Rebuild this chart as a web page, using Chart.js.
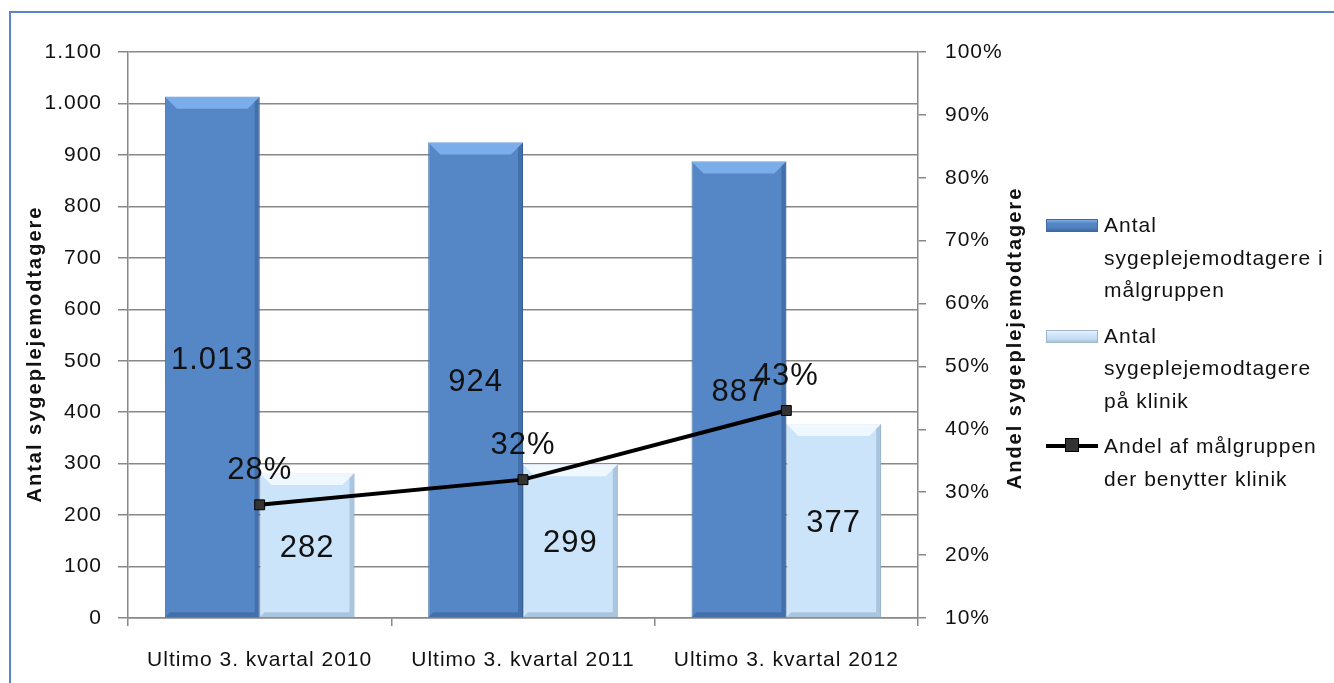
<!DOCTYPE html>
<html><head><meta charset="utf-8">
<script src="https://cdn.jsdelivr.net/npm/chart.js@4/dist/chart.umd.min.js"></script>
<style>
html,body{margin:0;padding:0;background:#fff;}
#wrap{position:relative;width:1334px;height:683px;overflow:hidden;background:#fff;}
#frame{position:absolute;left:9px;top:11px;width:1360px;height:720px;border:2px solid #5b86c5;box-sizing:border-box;}
#c{position:absolute;left:0;top:0;}
#legend{position:absolute;left:1046px;top:209px;font-family:'Liberation Sans',Arial,sans-serif;font-size:21px;line-height:32.5px;color:#111;letter-spacing:1px;}
.item{position:relative;padding-left:58px;margin-bottom:13px;white-space:nowrap;}
.sw{position:absolute;left:0;top:10px;width:52px;height:13px;box-sizing:border-box;}
.sw1{background:linear-gradient(#7eaee6,#5588c8 30%,#4f81bd 70%,#3d6aa3);border:1px solid #3d6aa3;}
.sw2{background:linear-gradient(#e6f2fc,#cfe4f8 35%,#c5dcf2 70%,#a9c3dc);border:1px solid #9fb8d0;}
.sw3{top:14px;height:4px;background:#000;}
.mk{position:absolute;left:19px;top:-6px;width:14px;height:14px;background:#333;border:1px solid #000;box-sizing:border-box;}
</style></head>
<body>
<div id="wrap">
<div id="frame"></div>
<canvas id="c" width="1334" height="683"></canvas>
<div id="legend">
 <div class="item"><div class="sw sw1"></div>Antal<br>sygeplejemodtagere i<br>målgruppen</div>
 <div class="item"><div class="sw sw2"></div>Antal<br>sygeplejemodtagere<br>på klinik</div>
 <div class="item"><div class="sw sw3"><div class="mk"></div></div>Andel af målgruppen<br>der benytter klinik</div>
</div>
</div>
<script>
const categories = ['Ultimo 3. kvartal 2010', 'Ultimo 3. kvartal 2011', 'Ultimo 3. kvartal 2012'];
const targetGroup = [1013, 924, 887];
const atClinic = [282, 299, 377];
const shareAtClinic = [28, 32, 43];
const leftTitle = 'Antal sygeplejemodtagere';
const rightTitle = 'Andel sygeplejemodtagere';
const seriesNames = ['Antal sygeplejemodtagere i målgruppen', 'Antal sygeplejemodtagere på klinik', 'Andel af målgruppen der benytter klinik'];

const FONT = '"Liberation Sans", Arial, sans-serif';
function fmt(n){ return String(n).replace(/\B(?=(\d{3})+(?!\d))/g, '.'); }

const spacingPlugin = {
  id: 'spacing',
  beforeLayout(chart){ chart.ctx.letterSpacing = '1px'; },
  beforeDraw(chart){ chart.ctx.letterSpacing = '1px'; }
};

const labelPlugin = {
  id: 'valueLabels',
  afterDatasetsDraw(chart){
    const ctx = chart.ctx;
    ctx.save();
    ctx.letterSpacing = '1px';
    ctx.font = '31px ' + FONT;
    ctx.fillStyle = '#111';
    ctx.textAlign = 'center';
    ctx.textBaseline = 'middle';
    [0, 1].forEach(di => {
      chart.getDatasetMeta(di).data.forEach((el, i) => {
        const v = chart.data.datasets[di].data[i];
        ctx.fillText(fmt(v), el.x, (el.y + el.base) / 2 + 3);
      });
    });
    chart.getDatasetMeta(2).data.forEach((el, i) => {
      ctx.fillText(chart.data.datasets[2].data[i] + '%', el.x, el.y - 34);
    });
    // axis titles
    ctx.font = 'bold 20px ' + FONT;
    ctx.letterSpacing = '2px';
    ctx.save();
    ctx.translate(35, 354);
    ctx.rotate(-Math.PI / 2);
    ctx.fillText(leftTitle, 0, 0);
    ctx.restore();
    ctx.save();
    ctx.translate(1015, 338);
    ctx.rotate(-Math.PI / 2);
    ctx.fillText(rightTitle, 0, 0);
    ctx.restore();
    ctx.restore();
  }
};

const bevelPlugin = {
  id: 'bevel',
  afterDatasetDraw(chart, args){
    if (args.index > 1) return;
    const ctx = chart.ctx;
    const hi = args.index === 0 ? 'rgba(130,180,240,0.85)' : 'rgba(240,248,255,0.95)';
    const sh = args.index === 0 ? 'rgba(40,80,130,0.4)' : 'rgba(120,150,180,0.4)';
    args.meta.data.forEach(el => {
      const w = el.width, l = el.x - w / 2, r = el.x + w / 2, t = el.y, b = el.base, d = 12;
      ctx.save();
      ctx.fillStyle = hi;
      ctx.beginPath(); ctx.moveTo(l, t); ctx.lineTo(r, t); ctx.lineTo(r - d, t + d); ctx.lineTo(l + d, t + d); ctx.closePath(); ctx.fill();
      ctx.fillStyle = sh;
      ctx.beginPath(); ctx.moveTo(r, t); ctx.lineTo(r, b); ctx.lineTo(r - 5, b - 5); ctx.lineTo(r - 5, t + 5); ctx.closePath(); ctx.fill();
      ctx.beginPath(); ctx.moveTo(l, b); ctx.lineTo(r, b); ctx.lineTo(r - 5, b - 5); ctx.lineTo(l + 5, b - 5); ctx.closePath(); ctx.fill();
      ctx.restore();
    });
  }
};

new Chart(document.getElementById('c'), {
  type: 'bar',
  data: {
    labels: categories,
    datasets: [
      { label: seriesNames[0], data: targetGroup, yAxisID: 'y', backgroundColor: '#5586c6', borderColor: '#3f6ca6', borderWidth: 1, categoryPercentage: 0.72, barPercentage: 1.0, order: 1 },
      { label: seriesNames[1], data: atClinic, yAxisID: 'y', backgroundColor: '#cce4fa', borderColor: '#a3bed8', borderWidth: 1, categoryPercentage: 0.72, barPercentage: 1.0, order: 2 },
      { type: 'line', label: seriesNames[2], data: shareAtClinic, yAxisID: 'y2', borderColor: '#000', borderWidth: 4, pointStyle: 'rect', pointRadius: 7, pointBackgroundColor: '#333', pointBorderColor: '#000', pointBorderWidth: 1, tension: 0, order: 0 }
    ]
  },
  options: {
    responsive: false,
    animation: false,
    events: [],
    layout: { padding: { top: 52, right: 306, bottom: 0, left: 0 } },
    plugins: { legend: { display: false }, tooltip: { enabled: false } },
    scales: {
      x: {
        offset: true,
        grid: { offset: true, drawOnChartArea: false, tickLength: 8, color: '#888', lineWidth: 1.5 },
        border: { color: '#888', width: 1.5 },
        ticks: { font: { family: FONT, size: 21 }, color: '#111', padding: 22 },
        afterFit(s){ s.height = 65; }
      },
      y: {
        position: 'left', min: 0, max: 1100,
        ticks: { stepSize: 100, callback: v => fmt(v), font: { family: FONT, size: 21 }, color: '#111', padding: 16 },
        grid: { color: '#888', lineWidth: 1.5, tickLength: 10 },
        border: { color: '#888', width: 1.5 },
        afterFit(s){ s.width = 128; }
      },
      y2: {
        position: 'right', min: 10, max: 100,
        ticks: { stepSize: 10, callback: v => v + '%', font: { family: FONT, size: 21 }, color: '#111', padding: 19 },
        grid: { drawOnChartArea: false, color: '#888', lineWidth: 1.5, tickLength: 8 },
        border: { color: '#888', width: 1.5 },
        afterFit(s){ s.width = 110; }
      }
    }
  },
  plugins: [spacingPlugin, bevelPlugin, labelPlugin]
});
</script>
</body></html>
